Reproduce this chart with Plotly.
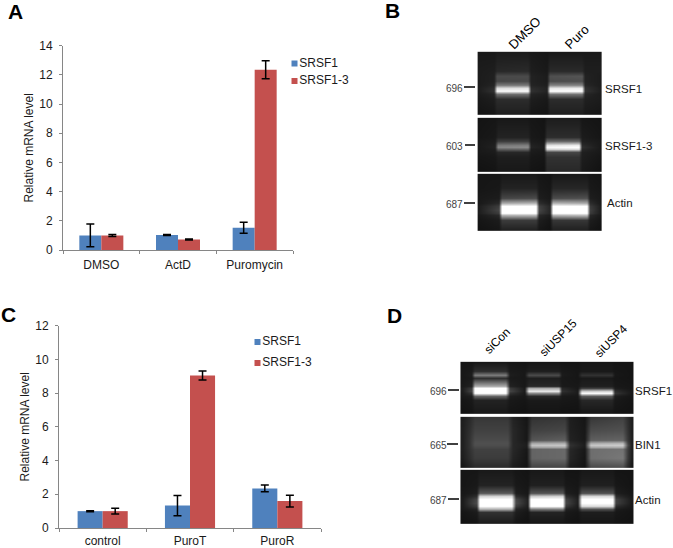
import plotly.graph_objects as go

# ---------- bar chart data ----------
cats_a = ["DMSO", "ActD", "Puromycin"]
srsf1_a = [1.0, 1.03, 1.52]
srsf1_a_err = [0.78, 0.03, 0.38]
srsf13_a = [1.0, 0.72, 12.35]
srsf13_a_err = [0.07, 0.04, 0.62]
ticks_a = [0, 2, 4, 6, 8, 10, 12, 14]

cats_c = ["control", "PuroT", "PuroR"]
srsf1_c = [1.0, 1.33, 2.35]
srsf1_c_err = [0.03, 0.6, 0.2]
srsf13_c = [1.0, 9.05, 1.6]
srsf13_c_err = [0.17, 0.27, 0.35]
ticks_c = [0, 2, 4, 6, 8, 10, 12]

# ---------- gel intensities (0-255) ----------
b1_x = [0, .125, .15, .40, .425, .555, .58, .84, .865, 1]
b1_y = [0, .3, .38, .46, .52, .57, .62, .67, .75, 1]
b1_z = [
    [25, 25, 28, 28, 25, 22, 25, 25, 25, 25],
    [28, 30, 40, 42, 30, 25, 42, 42, 30, 30],
    [28, 32, 75, 75, 34, 28, 80, 85, 34, 28],
    [28, 32, 70, 72, 34, 28, 75, 78, 34, 28],
    [28, 36, 120, 120, 36, 30, 130, 130, 38, 28],
    [30, 45, 220, 225, 45, 35, 230, 235, 48, 30],
    [30, 50, 250, 250, 50, 35, 255, 255, 52, 30],
    [28, 36, 110, 110, 36, 30, 115, 115, 38, 28],
    [25, 30, 45, 45, 30, 25, 45, 45, 32, 28],
    [20, 22, 30, 30, 22, 20, 30, 30, 25, 22],
]
b2_x = [0, .135, .16, .40, .425, .53, .555, .82, .845, 1]
b2_y = [0, .35, .43, .49, .53, .57, .62, .72, 1]
b2_z = [
    [20, 22, 24, 24, 22, 20, 28, 28, 22, 20],
    [22, 25, 35, 35, 25, 22, 45, 45, 28, 22],
    [25, 28, 60, 60, 28, 25, 100, 100, 32, 25],
    [25, 32, 120, 125, 34, 28, 225, 235, 42, 25],
    [25, 34, 135, 140, 36, 30, 250, 255, 48, 25],
    [25, 30, 95, 100, 30, 28, 215, 225, 40, 25],
    [25, 28, 40, 40, 28, 25, 70, 70, 32, 25],
    [22, 24, 30, 30, 24, 22, 50, 50, 30, 22],
    [18, 20, 24, 24, 20, 18, 40, 40, 25, 18],
]
b3_x = [0, .165, .19, .47, .495, .585, .61, .885, .91, 1]
b3_y = [0, .25, .42, .5, .56, .62, .68, .72, .8, 1]
b3_z = [
    [22, 22, 25, 25, 22, 20, 25, 25, 22, 20],
    [22, 24, 35, 35, 25, 22, 38, 38, 25, 22],
    [25, 28, 70, 75, 30, 25, 75, 80, 30, 25],
    [25, 40, 170, 180, 45, 30, 180, 170, 45, 25],
    [30, 60, 255, 255, 65, 38, 255, 255, 60, 28],
    [30, 70, 255, 255, 70, 38, 255, 255, 65, 28],
    [30, 60, 255, 255, 60, 38, 255, 255, 60, 28],
    [25, 40, 180, 185, 40, 28, 180, 190, 40, 25],
    [22, 28, 60, 60, 30, 22, 55, 55, 30, 22],
    [18, 22, 30, 30, 22, 18, 30, 30, 22, 18],
]
d1_x = [0, .06, .08, .26, .28, .37, .39, .565, .585, .68, .70, .875, .895, 1]
d1_y = [0, .17, .24, .31, .45, .5, .55, .6, .65, .72, 1]
d1_z = [
    [22, 22, 24, 24, 22, 20, 22, 22, 20, 20, 22, 22, 20, 20],
    [24, 26, 45, 45, 26, 24, 30, 30, 25, 22, 25, 25, 22, 20],
    [24, 30, 125, 125, 30, 24, 75, 75, 28, 22, 50, 50, 24, 20],
    [24, 26, 45, 45, 26, 24, 30, 30, 25, 22, 25, 25, 22, 20],
    [26, 34, 170, 170, 34, 24, 40, 40, 26, 24, 32, 32, 24, 22],
    [30, 60, 255, 255, 60, 26, 170, 170, 40, 24, 60, 60, 28, 22],
    [30, 70, 255, 255, 70, 28, 235, 235, 50, 28, 200, 210, 45, 24],
    [28, 50, 255, 255, 50, 26, 140, 140, 38, 28, 255, 255, 55, 24],
    [26, 30, 100, 100, 30, 24, 40, 40, 26, 24, 90, 90, 30, 22],
    [22, 25, 35, 35, 25, 22, 26, 26, 24, 22, 40, 40, 25, 20],
    [18, 20, 24, 24, 20, 18, 20, 20, 18, 18, 22, 22, 20, 18],
]
d2_x = [0, .05, .08, .27, .30, .38, .41, .60, .63, .72, .75, .94, .97, 1]
d2_y = [0, .25, .45, .5, .54, .58, .63, .8, 1]
d2_z = [
    [30, 42, 55, 55, 35, 22, 50, 55, 30, 22, 55, 65, 45, 30],
    [32, 48, 65, 65, 40, 24, 65, 70, 32, 24, 75, 80, 50, 30],
    [32, 52, 75, 75, 40, 24, 85, 95, 35, 25, 95, 100, 55, 30],
    [32, 52, 80, 80, 40, 28, 165, 170, 45, 28, 170, 180, 65, 30],
    [32, 52, 78, 78, 40, 30, 195, 200, 50, 30, 200, 205, 75, 30],
    [32, 52, 72, 72, 40, 28, 165, 170, 45, 28, 170, 175, 65, 30],
    [32, 50, 65, 65, 40, 24, 100, 105, 40, 24, 110, 115, 60, 30],
    [30, 46, 60, 60, 36, 22, 100, 105, 38, 22, 110, 120, 58, 28],
    [22, 34, 42, 42, 28, 20, 65, 65, 28, 20, 70, 75, 40, 22],
]
d3_x = [0, .09, .11, .295, .315, .385, .405, .59, .61, .68, .70, .88, .90, 1]
d3_y = [0, .28, .42, .48, .54, .6, .66, .71, .78, 1]
d3_z = [
    [22, 22, 25, 25, 22, 20, 24, 24, 20, 20, 24, 24, 20, 20],
    [22, 25, 35, 35, 25, 22, 32, 32, 24, 22, 32, 32, 24, 20],
    [24, 30, 90, 90, 30, 24, 85, 85, 30, 24, 80, 80, 30, 22],
    [26, 45, 210, 215, 45, 28, 200, 210, 45, 28, 215, 215, 45, 24],
    [28, 70, 255, 255, 70, 34, 255, 255, 65, 32, 255, 255, 65, 26],
    [28, 75, 255, 255, 75, 34, 255, 255, 70, 32, 255, 255, 65, 26],
    [28, 60, 255, 255, 60, 30, 255, 255, 55, 28, 220, 220, 45, 24],
    [26, 35, 175, 175, 35, 26, 120, 125, 32, 26, 80, 80, 28, 22],
    [22, 28, 50, 50, 30, 22, 36, 36, 26, 22, 30, 30, 24, 20],
    [18, 20, 26, 26, 20, 18, 22, 22, 20, 18, 22, 22, 20, 18],
]

# ---------- page layout ----------
W, H = 673, 548
BLUE, RED = "#4F81BD", "#C4504E"
AXIS = "#868686"
FONT = "Liberation Sans, Arial, sans-serif"
TXT = "#1a1a1a"


def xd(a, b):
    return [a / W, b / W]


def yd(top, bottom):
    return [1 - bottom / H, 1 - top / H]


fig = go.Figure()


def add_bars(cats, v1, e1, v2, e2, xa, ya):
    for name, vals, errs, col in (("SRSF1", v1, e1, BLUE), ("SRSF1-3", v2, e2, RED)):
        fig.add_bar(
            x=cats, y=vals, name=name, xaxis=xa, yaxis=ya, showlegend=False,
            marker=dict(color=col, line=dict(width=0)),
            error_y=dict(type="data", array=errs, visible=True, color="black",
                         thickness=1.5, width=4),
        )


add_bars(cats_a, srsf1_a, srsf1_a_err, srsf13_a, srsf13_a_err, "x", "y")
add_bars(cats_c, srsf1_c, srsf1_c_err, srsf13_c, srsf13_c_err, "x2", "y2")


def pad(fracs):
    # a very thin first and last cell, so the image stops at the gel's edge
    return [fracs[0], fracs[0] + 0.006] + list(fracs[1:-1]) + [fracs[-1] - 0.006, fracs[-1]]


def pad_z(z):
    rows = [z[0]] + list(z) + [z[-1]]
    return [[r[0]] + list(r) + [r[-1]] for r in rows]


def add_gel(xs, ys, z, box):
    x0, x1, y0, y1 = box
    fig.add_heatmap(
        x=[x0 + f * (x1 - x0) for f in pad(xs)],
        y=[y0 + f * (y1 - y0) for f in pad(ys)],
        z=pad_z(z), zmin=0, zmax=255, zsmooth="best", showscale=False, hoverinfo="skip",
        colorscale=[[0, "#000000"], [1, "#ffffff"]], xaxis="x3", yaxis="y3",
    )


add_gel(b1_x, b1_y, b1_z, (478, 601, 52, 115))
add_gel(b2_x, b2_y, b2_z, (478, 601, 118, 172))
add_gel(b3_x, b3_y, b3_z, (478, 601, 174, 231))
add_gel(d1_x, d1_y, d1_z, (461, 633, 362, 414))
add_gel(d2_x, d2_y, d2_z, (461, 633, 417, 468))
add_gel(d3_x, d3_y, d3_z, (461, 633, 470, 524))

# legends drawn as square markers with their text
for xpos, ys_leg in ((294.5, (63.5, 81)), (257.5, (342, 363))):
    for name, col, yy in (("SRSF1", BLUE, ys_leg[0]), ("SRSF1-3", RED, ys_leg[1])):
        fig.add_scatter(
            x=[xpos], y=[yy], mode="markers+text", text=[name], textposition="middle right",
            marker=dict(symbol="square", size=6, color=col), xaxis="x3", yaxis="y3",
            showlegend=False, hoverinfo="skip", textfont=dict(size=12, color=TXT, family=FONT),
        )

annotations = []


def label(x, y, text, size=12, anchor="left", color=TXT, angle=0, bold=False):
    annotations.append(dict(
        x=x, y=y, xref="x3", yref="y3", text=f"<b>{text}</b>" if bold else text,
        showarrow=False, xanchor=anchor, yanchor="middle", textangle=angle,
        font=dict(size=size, color=color, family=FONT), borderpad=0, borderwidth=0,
    ))


for t, x, y in (("A", 8, 11), ("B", 385, 10), ("C", 1, 314), ("D", 387, 315)):
    label(x, y, t, size=21, color="black", bold=True)

for t, x, y, lx0, lx1 in (("696", 462.5, 88, 464, 475), ("603", 462.5, 146, 465, 475),
                          ("687", 462.5, 204, 464, 475), ("696", 447, 391, 448, 459),
                          ("665", 447, 445, 447, 458), ("687", 447, 500, 448, 459)):
    label(x, y, t, size=10, anchor="right", color="#444444")
    fig.add_shape(type="line", x0=lx0, x1=lx1, y0=y - 1, y1=y - 1, xref="x3", yref="y3",
                  line=dict(color="black", width=1.5))

for t, x, y in (("SRSF1", 605, 88.5), ("SRSF1-3", 605, 146), ("Actin", 607, 203),
                ("SRSF1", 635, 391), ("BIN1", 635, 445), ("Actin", 635, 500)):
    label(x, y, t, size=11.5)

for t, x, y, s in (("DMSO", 524, 33, 13), ("Puro", 576, 37, 13), ("siCon", 497, 341, 12),
                   ("siUSP15", 558, 338, 12), ("siUSP4", 611, 341, 12)):
    label(x, y, t, size=s, anchor="center", color="black", angle=-45)

tickf = dict(size=12, color=TXT, family=FONT)


def cat_axis(dom, anchor, gap):
    return dict(domain=dom, anchor=anchor, range=[-0.5, 2.5], type="category", automargin=False,
                showline=True, linecolor=AXIS, linewidth=1, ticks="outside", tickcolor=AXIS,
                ticklen=3, tickwidth=1, tickson="boundaries", showgrid=False, zeroline=False,
                tickfont=tickf, ticklabelstandoff=gap)


def val_axis(dom, anchor, rng, ticks, standoff):
    return dict(domain=dom, anchor=anchor, range=rng, tickvals=ticks, automargin=False,
                showline=True, linecolor=AXIS, linewidth=1, ticks="outside", tickcolor=AXIS,
                ticklen=3, tickwidth=1, showgrid=False, zeroline=False, tickfont=tickf,
                ticklabelstandoff=4,
                title=dict(text="Relative mRNA level", font=dict(size=12, color=TXT, family=FONT),
                           standoff=standoff))


fig.update_layout(
    width=W, height=H, margin=dict(l=0, r=0, t=0, b=0), autosize=False,
    paper_bgcolor="white", plot_bgcolor="rgba(0,0,0,0)", barmode="group", bargap=0.426,
    bargroupgap=0, showlegend=False, annotations=annotations, font=dict(family=FONT),
    xaxis=cat_axis(xd(63, 293), "y", 4),
    yaxis=val_axis(yd(45.7, 250), "x", [0, 14], ticks_a, 3),
    xaxis2=cat_axis(xd(59, 321), "y2", 2),
    yaxis2=val_axis(yd(325.7, 528), "x2", [0, 12], ticks_c, 3),
    xaxis3=dict(domain=[0, 1], range=[0, W], visible=False, anchor="y3", fixedrange=True,
                automargin=False),
    yaxis3=dict(domain=[0, 1], range=[H, 0], visible=False, anchor="x3", fixedrange=True,
                automargin=False),
)

fig.write_html("out.html", config={"displayModeBar": False},
               post_script="document.body.style.margin='0';")
